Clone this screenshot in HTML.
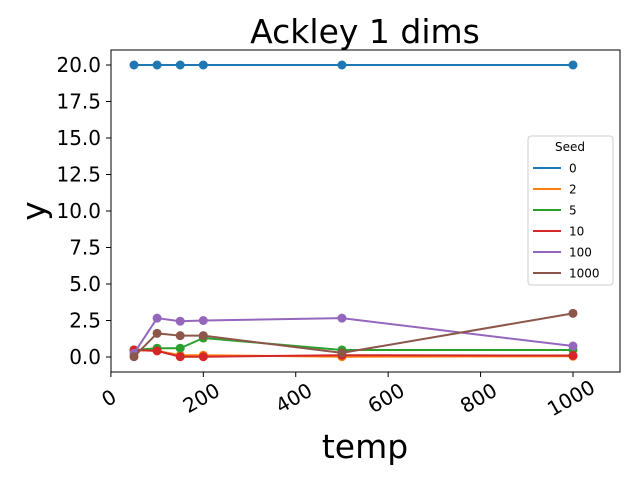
<!DOCTYPE html>
<html><head><meta charset="utf-8"><style>
body{margin:0;background:#fff;}
svg{display:block;font-family:"DejaVu Sans","Liberation Sans",sans-serif;}
</style></head><body>
<svg id="chart" width="640" height="480">
<text x="365" y="43" font-size="33" text-anchor="middle">Ackley 1 dims</text>
<text x="45" y="211" font-size="33" text-anchor="middle" transform="rotate(-90 45 211)">y</text>
<text x="365" y="458" font-size="33" text-anchor="middle">temp</text>
<g id="ticks"></g>
<g id="series"></g>
<rect x="111" y="50" width="509" height="322" fill="none" stroke="#000" stroke-width="1"/>
<g id="legend"></g>
</svg>
<script>
const temps=[50,100,150,200,500,1000];
const seeds=['0','2','5','10','100','1000'];
const s0=[20,20,20,20,20,20];
const s2=[0.48,0.42,0.12,0.12,0.02,0.05];
const s5=[0.48,0.6,0.6,1.3,0.48,0.48];
const s10=[0.48,0.42,0.02,0.02,0.12,0.1];
const s100=[0.25,2.66,2.45,2.5,2.66,0.75];
const s1000=[0.02,1.62,1.46,1.46,0.28,2.99];
const xTicks=[0,200,400,600,800,1000];
const yTicks=[0,2.5,5,7.5,10,12.5,15,17.5,20];
const colors=['#1f77b4','#ff7f0e','#2ca02c','#d62728','#9467bd','#8c564b'];
const allSeries=[s0,s2,s5,s10,s100,s1000];
const NS='http://www.w3.org/2000/svg';
function X(v){return 134+(v-50)*0.4621;}
function Y(v){return 357-v*14.6;}
function mk(t,a,p){const e=document.createElementNS(NS,t);for(const k in a)e.setAttribute(k,a[k]);p.appendChild(e);return e;}
const tg=document.getElementById('ticks');
xTicks.forEach(t=>{
  mk('line',{x1:X(t),x2:X(t),y1:372,y2:377,stroke:'#000'},tg);
  const cx=X(t)-2, cy=398;
  const tx=mk('text',{x:cx,y:cy+7,'font-size':20,'text-anchor':'middle',transform:`rotate(-30 ${cx} ${cy})`},tg);
  tx.textContent=t;
  
  
});
yTicks.forEach(t=>{
  mk('line',{x1:106,x2:111,y1:Y(t),y2:Y(t),stroke:'#000'},tg);
  const tx=mk('text',{x:101,y:Y(t)+7,'font-size':20,'text-anchor':'end'},tg);
  tx.textContent=t.toFixed(1);
  
  
});
const sg=document.getElementById('series');
allSeries.forEach((s,i)=>{
  const g=mk('g',{},sg);
  
  
  mk('polyline',{points:s.map((v,j)=>X(temps[j])+','+Y(v)).join(' '),fill:'none',stroke:colors[i],'stroke-width':2},g);
  s.forEach((v,j)=>{
    const c=mk('circle',{cx:X(temps[j]),cy:Y(v),r:4.5,fill:colors[i]},g);
    
    
  });
});
const lg=document.getElementById('legend');


mk('rect',{x:528,y:136,width:85,height:149,rx:3,fill:'#fff',stroke:'#ccc'},lg);
mk('text',{x:570,y:151,'font-size':12,'text-anchor':'middle'},lg).textContent='Seed';
seeds.forEach((s,i)=>{
  const y=168+i*21;
  mk('line',{x1:533,x2:561,y1:y,y2:y,stroke:colors[i],'stroke-width':2},lg);
  const t=mk('text',{x:569,y:y+4.5,'font-size':12},lg);
  t.textContent=s;
  
  
});
</script>
</body></html>
